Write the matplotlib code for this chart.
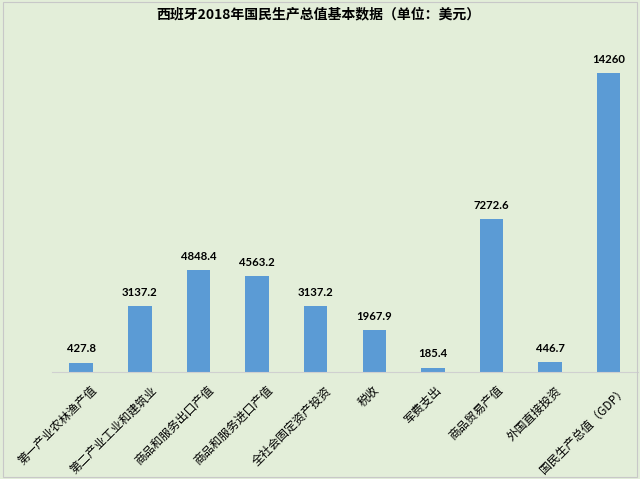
import matplotlib
matplotlib.use("Agg")
import matplotlib.pyplot as plt
from matplotlib.patches import Rectangle
from matplotlib.transforms import ScaledTranslation

plt.rcParams['font.family'] = ['Noto Sans CJK SC', 'DejaVu Sans']

title = "西班牙2018年国民生产总值基本数据（单位：美元）"
categories = ["第一产业农林渔产值", "第二产业工业和建筑业", "商品和服务出口产值",
              "商品和服务进口产值", "全社会固定资产投资", "税收", "军费支出",
              "商品贸易产值", "外国直接投资", "国民生产总值（GDP）"]
values = [427.8, 3137.2, 4848.4, 4563.2, 3137.2, 1967.9, 185.4, 7272.6, 446.7, 14260]

bg = '#e3eed9'
bar_color = '#5b9bd5'

fig = plt.figure(figsize=(6.4, 4.79), dpi=100, facecolor=bg)
ax = fig.add_axes([0.081, 0.224, 0.916, 0.700])
ax.set_facecolor(bg)

x = list(range(len(categories)))
bars = ax.bar(x, values, width=0.4, color=bar_color, zorder=2)

for b, v in zip(bars, values):
    ax.annotate('{:g}'.format(v), (b.get_x() + b.get_width() / 2, b.get_height()),
                xytext=(0, 6), textcoords='offset points', ha='center', va='bottom',
                fontsize=8.2, fontweight='bold', family=['Lato', 'DejaVu Sans'])

ax.set_xlim(-0.5, len(categories) - 0.5)
ax.set_ylim(0, 16000)
ax.set_yticks([])
for s in ['top', 'right', 'left']:
    ax.spines[s].set_visible(False)
ax.spines['bottom'].set_color('#d0d0d0')
ax.spines['bottom'].set_linewidth(0.8)

ax.set_xticks(x)
ax.set_xticklabels(categories, rotation=45, rotation_mode='anchor',
                   ha='right', va='center', fontsize=8.5)
ax.tick_params(axis='x', length=0, pad=12)
for lab, name in zip(ax.get_xticklabels(), categories):
    dx = (1.5 * len(name)) / 100.0
    lab.set_transform(lab.get_transform() + ScaledTranslation(dx, 0, fig.dpi_scale_trans))

fig.text(0.497, 0.969, title, ha='center', va='center', fontsize=10, fontweight='bold')

fig.patches.append(Rectangle((0.004, 0.004), 0.992, 0.992, transform=fig.transFigure,
                             fill=False, edgecolor='#c8c8c8', linewidth=0.8))

fig.savefig('out.png', dpi=100, facecolor=bg)
